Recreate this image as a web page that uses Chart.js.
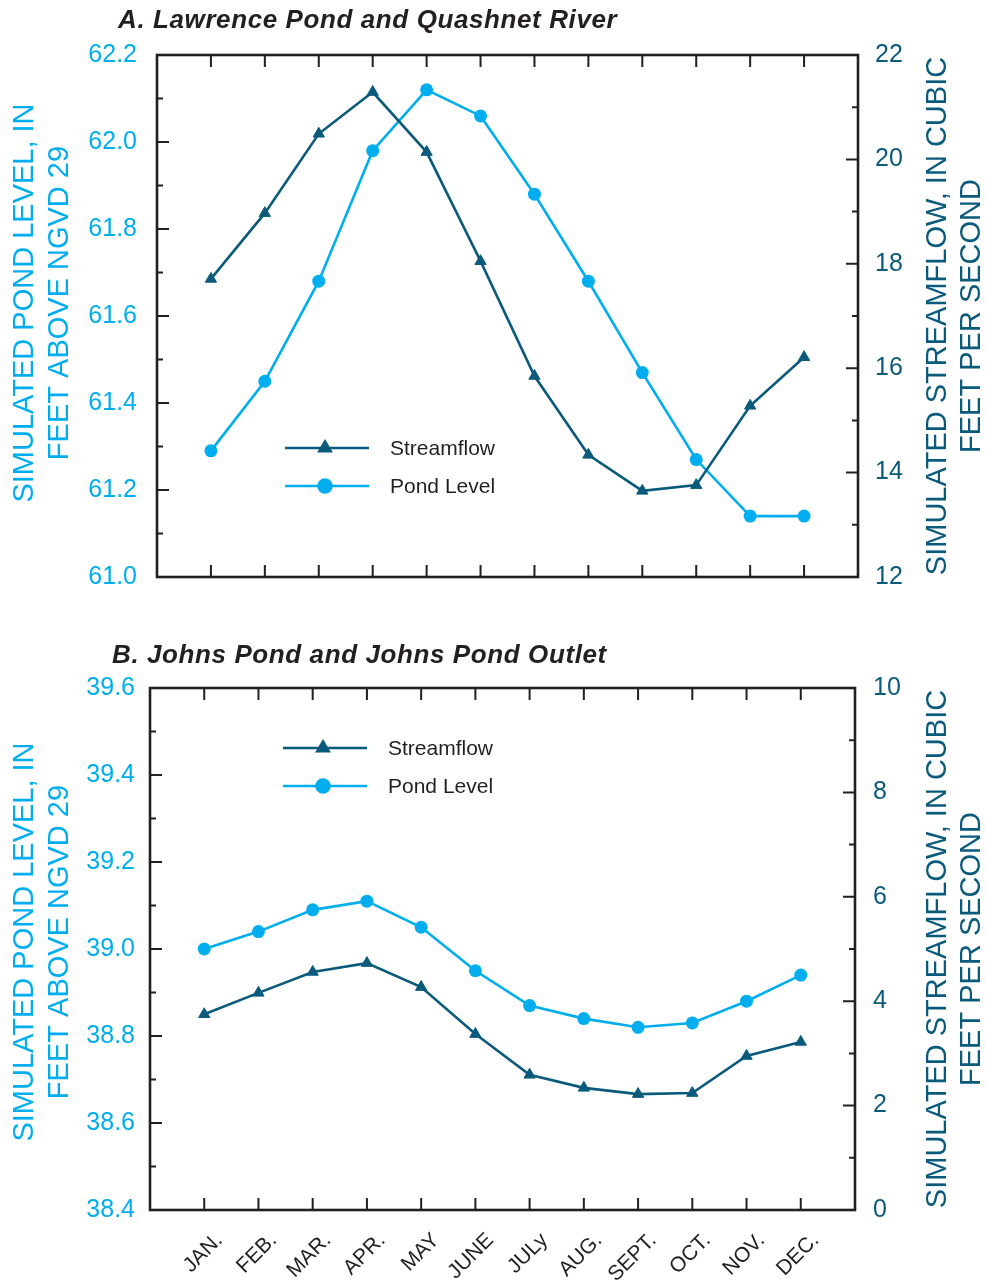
<!DOCTYPE html>
<html>
<head>
<meta charset="utf-8">
<script src="https://cdn.jsdelivr.net/npm/chart.js@4.4.1/dist/chart.umd.min.js"></script>
<style>
    body { margin: 0; background: #fff; }
    .caixa { position: absolute; left: 0; width: 986px; }
</style>
</head>
<body>
<div class="caixa" style="top:0;height:612px"><canvas id="graficoA"></canvas></div>
<div class="caixa" style="top:620px;height:660px"><canvas id="graficoB"></canvas></div>

<script>
// meses (eixo x)
const meses = ["JAN.", "FEB.", "MAR.", "APR.", "MAY", "JUNE", "JULy", "AUG.", "SEPT.", "OCT.", "NOV.", "DEC."];

// A. Lawrence Pond and Quashnet River
const nivelLagoaA = [61.29, 61.45, 61.68, 61.98, 62.12, 62.06, 61.88, 61.68, 61.47, 61.27, 61.14, 61.14];
const vazaoA = [17.71, 18.97, 20.49, 21.29, 20.14, 18.05, 15.85, 14.34, 13.65, 13.76, 15.28, 16.21];

// B. Johns Pond and Johns Pond Outlet
const nivelLagoaB = [39.00, 39.04, 39.09, 39.11, 39.05, 38.95, 38.87, 38.84, 38.82, 38.83, 38.88, 38.94];
const vazaoB = [3.75, 4.16, 4.56, 4.73, 4.27, 3.37, 2.59, 2.34, 2.22, 2.24, 2.95, 3.22];

// limites dos eixos
const eixoNivelA = [61.0, 62.2];
const eixoVazaoA = [12, 22];
const eixoNivelB = [38.4, 39.6];
const eixoVazaoB = [0, 10];

const AZUL_CLARO = "#00aeef";
const AZUL_ESCURO = "#0a5a7c";
const PRETO = "#231f20";
const FONTE = "'Liberation Sans', Arial, Helvetica, sans-serif";

function pontos(valores) {
    return valores.map((v, i) => ({ x: i, y: v }));
}

/* =======================
   MOLDURA + TICKS PARA DENTRO
======================== */
const molduraPlugin = {
    id: "moldura",
    beforeDatasetsDraw(chart) {
        const ctx = chart.ctx;
        const a = chart.chartArea;
        const x = chart.scales.x;
        const y = chart.scales.y;
        const y1 = chart.scales.y1;
        ctx.save();
        ctx.strokeStyle = PRETO;
        ctx.lineCap = "butt";

        // ticks dos meses (em cima e embaixo)
        ctx.lineWidth = 2;
        ctx.beginPath();
        for (let i = 0; i < meses.length; i++) {
            const px = x.getPixelForValue(i);
            ctx.moveTo(px, a.top); ctx.lineTo(px, a.top + 12);
            ctx.moveTo(px, a.bottom); ctx.lineTo(px, a.bottom - 12);
        }
        // eixo esquerdo: maior a cada 0.2, menor a cada 0.1
        for (let k = 1; k < 12; k++) {
            const py = y.getPixelForValue(y.min + k * 0.1);
            ctx.moveTo(a.left, py); ctx.lineTo(a.left + (k % 2 === 0 ? 12 : 6), py);
        }
        // eixo direito: maior a cada 2, menor a cada 1
        for (let k = 1; k < 10; k++) {
            const py = y1.getPixelForValue(y1.min + k);
            ctx.moveTo(a.right, py); ctx.lineTo(a.right - (k % 2 === 0 ? 12 : 6), py);
        }
        ctx.stroke();

        ctx.lineWidth = 2.6;
        ctx.strokeRect(a.left, a.top, a.right - a.left, a.bottom - a.top);
        ctx.restore();
    }
};

/* =======================
   TITULOS (grafico e eixos) + LEGENDA
======================== */
const textosPlugin = {
    id: "textos",
    afterDraw(chart, args, opts) {
        const ctx = chart.ctx;
        const a = chart.chartArea;
        const meioY = (a.top + a.bottom) / 2;
        ctx.save();

        // titulo do grafico
        ctx.fillStyle = PRETO;
        ctx.font = "italic bold 26px " + FONTE;
        ctx.letterSpacing = "0.6px";
        ctx.textAlign = "left";
        ctx.textBaseline = "alphabetic";
        ctx.fillText(opts.titulo, opts.tituloX, opts.tituloY);
        ctx.letterSpacing = "0px";

        // titulos dos eixos (girados, lidos de baixo para cima)
        ctx.font = "29px " + FONTE;
        ctx.textAlign = "center";
        ctx.textBaseline = "middle";
        const eixos = [
            { linhas: opts.tituloEsq, xs: [25, 60], cor: AZUL_CLARO, cy: meioY + opts.deslocEsq },
            { linhas: opts.tituloDir, xs: [938, 972], cor: AZUL_ESCURO, cy: meioY }
        ];
        eixos.forEach(e => {
            ctx.fillStyle = e.cor;
            e.linhas.forEach((t, i) => {
                ctx.save();
                ctx.translate(e.xs[i], e.cy);
                ctx.rotate(-Math.PI / 2);
                ctx.fillText(t, 0, 0);
                ctx.restore();
            });
        });

        // legenda: linha + marcador + texto
        ctx.font = "21px " + FONTE;
        ctx.textAlign = "left";
        chart.data.datasets.forEach((ds, i) => {
            const x0 = a.left + opts.legX;
            const ly = a.top + opts.legY + i * 38;
            ctx.strokeStyle = ds.borderColor;
            ctx.lineWidth = ds.borderWidth;
            ctx.beginPath();
            ctx.moveTo(x0, ly); ctx.lineTo(x0 + 84, ly);
            ctx.stroke();
            ctx.fillStyle = ds.pointBackgroundColor;
            ctx.strokeStyle = ds.pointBackgroundColor;
            Chart.helpers.drawPoint(ctx, {
                pointStyle: ds.pointStyle, radius: ds.pointRadius, rotation: 0, borderWidth: 1
            }, x0 + 40, ly);
            ctx.fillStyle = PRETO;
            ctx.fillText(ds.label, x0 + 105, ly + 1);
        });
        ctx.restore();
    }
};

function criarGrafico(id, nivel, vazao, limNivel, limVazao, cfg) {
    const ctx = document.getElementById(id).getContext("2d");
    return new Chart(ctx, {
        type: "line",
        data: {
            datasets: [
                {
                    label: "Streamflow",
                    data: pontos(vazao),
                    yAxisID: "y1",
                    borderColor: AZUL_ESCURO,
                    backgroundColor: AZUL_ESCURO,
                    pointBackgroundColor: AZUL_ESCURO,
                    pointBorderColor: AZUL_ESCURO,
                    borderWidth: 2.6,
                    pointStyle: "triangle",
                    pointRadius: 6.5,
                    pointBorderWidth: 1,
                    tension: 0
                },
                {
                    label: "Pond Level",
                    data: pontos(nivel),
                    yAxisID: "y",
                    borderColor: AZUL_CLARO,
                    backgroundColor: AZUL_CLARO,
                    pointBackgroundColor: AZUL_CLARO,
                    pointBorderColor: AZUL_CLARO,
                    borderWidth: 2.6,
                    pointStyle: "circle",
                    pointRadius: 6.5,
                    pointBorderWidth: 0,
                    tension: 0
                }
            ]
        },
        options: {
            responsive: true,
            maintainAspectRatio: false,
            animation: false,
            layout: { padding: { top: cfg.topo, left: 0, right: 0, bottom: 0 } },
            plugins: {
                legend: { display: false },
                title: { display: false },
                tooltip: { enabled: false },
                textos: cfg.textos
            },
            scales: {
                x: {
                    type: "linear",
                    min: -1,
                    max: 12,
                    grid: { display: false, drawTicks: false },
                    border: { display: false },
                    ticks: {
                        display: cfg.mostrarMeses,
                        stepSize: 1,
                        autoSkip: false,
                        minRotation: 45,
                        maxRotation: 45,
                        padding: 18,
                        labelOffset: 15,
                        color: PRETO,
                        font: { family: FONTE, size: 21 },
                        callback: v => meses[v] ?? ""
                    },
                    afterFit: s => { s.height = cfg.alturaX; }
                },
                y: {
                    position: "left",
                    min: limNivel[0],
                    max: limNivel[1],
                    grid: { display: false, drawTicks: false },
                    border: { display: false },
                    ticks: {
                        stepSize: 0.2,
                        padding: cfg.padEsq,
                        color: AZUL_CLARO,
                        font: { family: FONTE, size: 25 },
                        callback: v => Number(v).toFixed(1)
                    },
                    afterFit: s => { s.width = cfg.esquerda; }
                },
                y1: {
                    position: "right",
                    min: limVazao[0],
                    max: limVazao[1],
                    grid: { display: false, drawTicks: false },
                    border: { display: false },
                    ticks: {
                        stepSize: 2,
                        padding: cfg.padDir,
                        color: AZUL_ESCURO,
                        font: { family: FONTE, size: 25 },
                        callback: v => String(v)
                    },
                    afterFit: s => { s.width = 986 - cfg.direita; }
                }
            }
        },
        plugins: [molduraPlugin, textosPlugin]
    });
}

const tituloEsq = ["SIMULATED POND LEVEL, IN", "FEET ABOVE NGVD 29"];
const tituloDir = ["SIMULATED STREAMFLOW, IN CUBIC", "FEET PER SECOND"];

criarGrafico("graficoA", nivelLagoaA, vazaoA, eixoNivelA, eixoVazaoA, {
    topo: 55, alturaX: 35, esquerda: 157, direita: 858, padEsq: 20, padDir: 17, mostrarMeses: false,
    textos: {
        titulo: "A. Lawrence Pond and Quashnet River", tituloX: 118, tituloY: 28,
        tituloEsq, tituloDir, deslocEsq: -13, legX: 128, legY: 393
    }
});

criarGrafico("graficoB", nivelLagoaB, vazaoB, eixoNivelB, eixoVazaoB, {
    topo: 68, alturaX: 70, esquerda: 150, direita: 855, padEsq: 15, padDir: 18, mostrarMeses: true,
    textos: {
        titulo: "B. Johns Pond and Johns Pond Outlet", tituloX: 112, tituloY: 43,
        tituloEsq, tituloDir, deslocEsq: -7, legX: 133, legY: 60
    }
});
</script>
</body>
</html>
